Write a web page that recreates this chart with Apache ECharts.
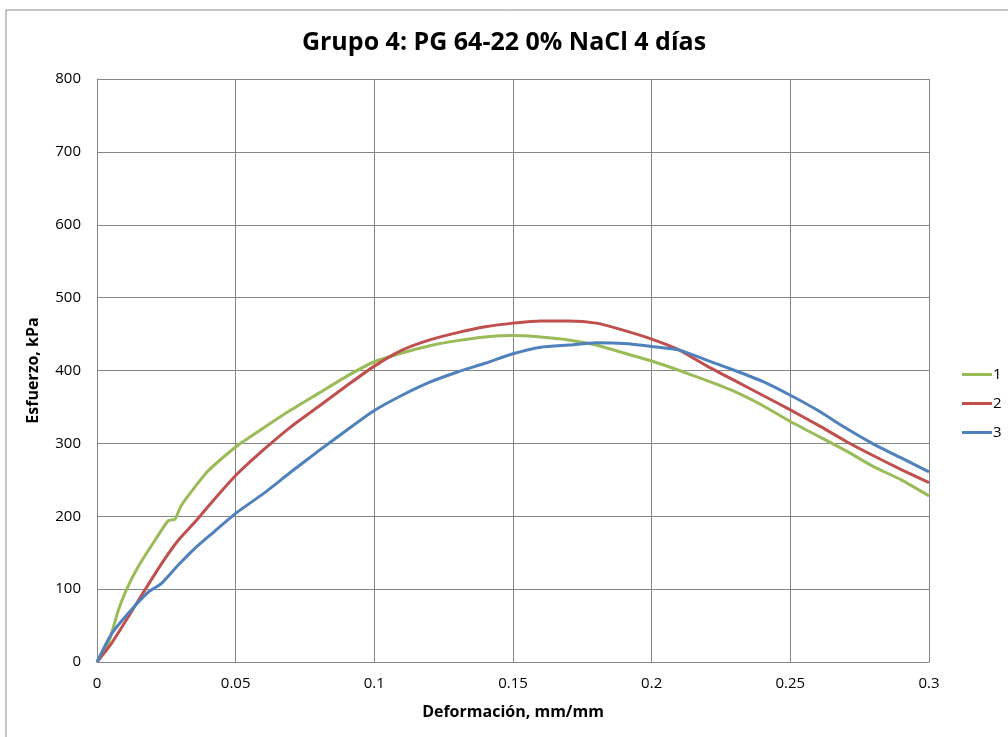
<!DOCTYPE html>
<html>
<head>
<meta charset="utf-8">
<script src="https://cdn.jsdelivr.net/npm/echarts@6/dist/echarts.min.js"></script>
<style>
  html, body { margin: 0; padding: 0; background: #fff; }
  #chart { width: 1008px; height: 737px; }
</style>
</head>
<body>
<div id="chart"></div>
<script>
// deformación (mm/mm) y esfuerzo (kPa) de cada probeta
const strain1 = [0, 0.0041, 0.0077, 0.0107, 0.0149, 0.0209, 0.0257, 0.0281, 0.0299, 0.0317, 0.04, 0.05, 0.06, 0.07, 0.08, 0.09, 0.1, 0.11, 0.12, 0.13, 0.14, 0.15, 0.16, 0.17, 0.18, 0.19, 0.2, 0.21, 0.22, 0.23, 0.24, 0.25, 0.26, 0.27, 0.28, 0.29, 0.3]
const stress1 = [0, 26, 71, 100, 131, 167, 194, 196, 211, 222, 262, 295, 321, 346, 369, 392, 412, 424, 434, 441, 446, 448, 446, 442, 435, 424, 413, 400, 386, 371, 352, 330, 310, 290, 268, 250, 228]

const strain2 = [0, 0.0053, 0.0113, 0.0173, 0.0233, 0.0293, 0.0353, 0.042, 0.05, 0.06, 0.07, 0.08, 0.09, 0.1, 0.11, 0.12, 0.13, 0.14, 0.15, 0.16, 0.17, 0.18, 0.19, 0.2, 0.21, 0.22, 0.23, 0.24, 0.25, 0.26, 0.27, 0.28, 0.29, 0.3]
const stress2 = [0, 26, 62, 99, 135, 167, 192, 222, 256, 291, 323, 351, 379, 406, 428, 442, 452, 460, 465, 468, 468, 465, 455, 443, 428, 406, 386, 366, 346, 325, 303, 283, 264, 246]

const strain3 = [0, 0.0053, 0.0113, 0.0185, 0.0233, 0.0293, 0.0353, 0.042, 0.05, 0.06, 0.07, 0.08, 0.09, 0.1, 0.11, 0.12, 0.13, 0.14, 0.15, 0.16, 0.17, 0.18, 0.19, 0.2, 0.21, 0.22, 0.23, 0.24, 0.25, 0.26, 0.27, 0.28, 0.29, 0.3]
const stress3 = [0, 39, 67, 96, 108, 133, 156, 178, 204, 231, 261, 290, 318, 345, 366, 384, 398, 410, 423, 432, 435, 438, 437, 433, 428, 414, 400, 385, 366, 345, 321, 299, 280, 261]

const seriesNames = ['1', '2', '3']
const colors = ['#9BBB59', '#C0504D', '#4F81BD']

const pair = (xs, ys) => xs.map((x, i) => [x, ys[i]])
const seriesData = [pair(strain1, stress1), pair(strain2, stress2), pair(strain3, stress3)]

const font = 'Open Sans, Liberation Sans, sans-serif'

const chart = echarts.init(document.getElementById('chart'))

const option = {
  animation: false,
  textStyle: { fontFamily: font },
  title: {
    text: 'Grupo 4: PG 64-22 0% NaCl 4 días',
    left: 'center',
    top: 25,
    textStyle: { fontSize: 25, fontWeight: 'bold', color: '#000', fontFamily: font },
  },
  graphic: [
    {
      type: 'rect',
      shape: { x: 6, y: 10, width: 1010, height: 740 },
      style: { fill: 'none', stroke: '#8c8c8c', lineWidth: 1 },
      silent: true,
    },
  ],
  legend: {
    orient: 'vertical',
    left: 957,
    top: 362,
    itemWidth: 30,
    itemHeight: 3,
    itemGap: 14,
    icon: 'rect',
    data: seriesNames,
    textStyle: { fontSize: 15, color: '#000', padding: [0, 0, 0, -4] },
  },
  grid: {
    left: 97,
    right: 79,
    top: 79,
    bottom: 75,
  },
  xAxis: {
    type: 'value',
    min: 0,
    max: 0.3,
    interval: 0.05,
    name: 'Deformación, mm/mm',
    nameLocation: 'middle',
    nameGap: 42,
    nameTextStyle: { fontSize: 16, fontWeight: 'bold', color: '#000' },
    axisLine: { lineStyle: { color: '#868686' } },
    axisTick: { show: false },
    axisLabel: { fontSize: 15, color: '#000', margin: 14 },
    splitLine: { lineStyle: { color: '#868686', width: 1 } },
  },
  yAxis: {
    type: 'value',
    min: 0,
    max: 800,
    interval: 100,
    name: 'Esfuerzo, kPa',
    nameLocation: 'middle',
    nameGap: 56,
    nameTextStyle: { fontSize: 16, fontWeight: 'bold', color: '#000' },
    axisLine: { show: true, lineStyle: { color: '#868686' } },
    axisTick: { show: false },
    axisLabel: { fontSize: 15, color: '#000', margin: 16 },
    splitLine: { lineStyle: { color: '#868686', width: 1 } },
  },
  series: seriesNames.map((name, i) => ({
    name,
    type: 'line',
    data: seriesData[i],
    showSymbol: false,
    smooth: 0.2,
    itemStyle: { color: colors[i] },
    lineStyle: { color: colors[i], width: 3 },
  })),
}

chart.setOption(option)
</script>
</body>
</html>
